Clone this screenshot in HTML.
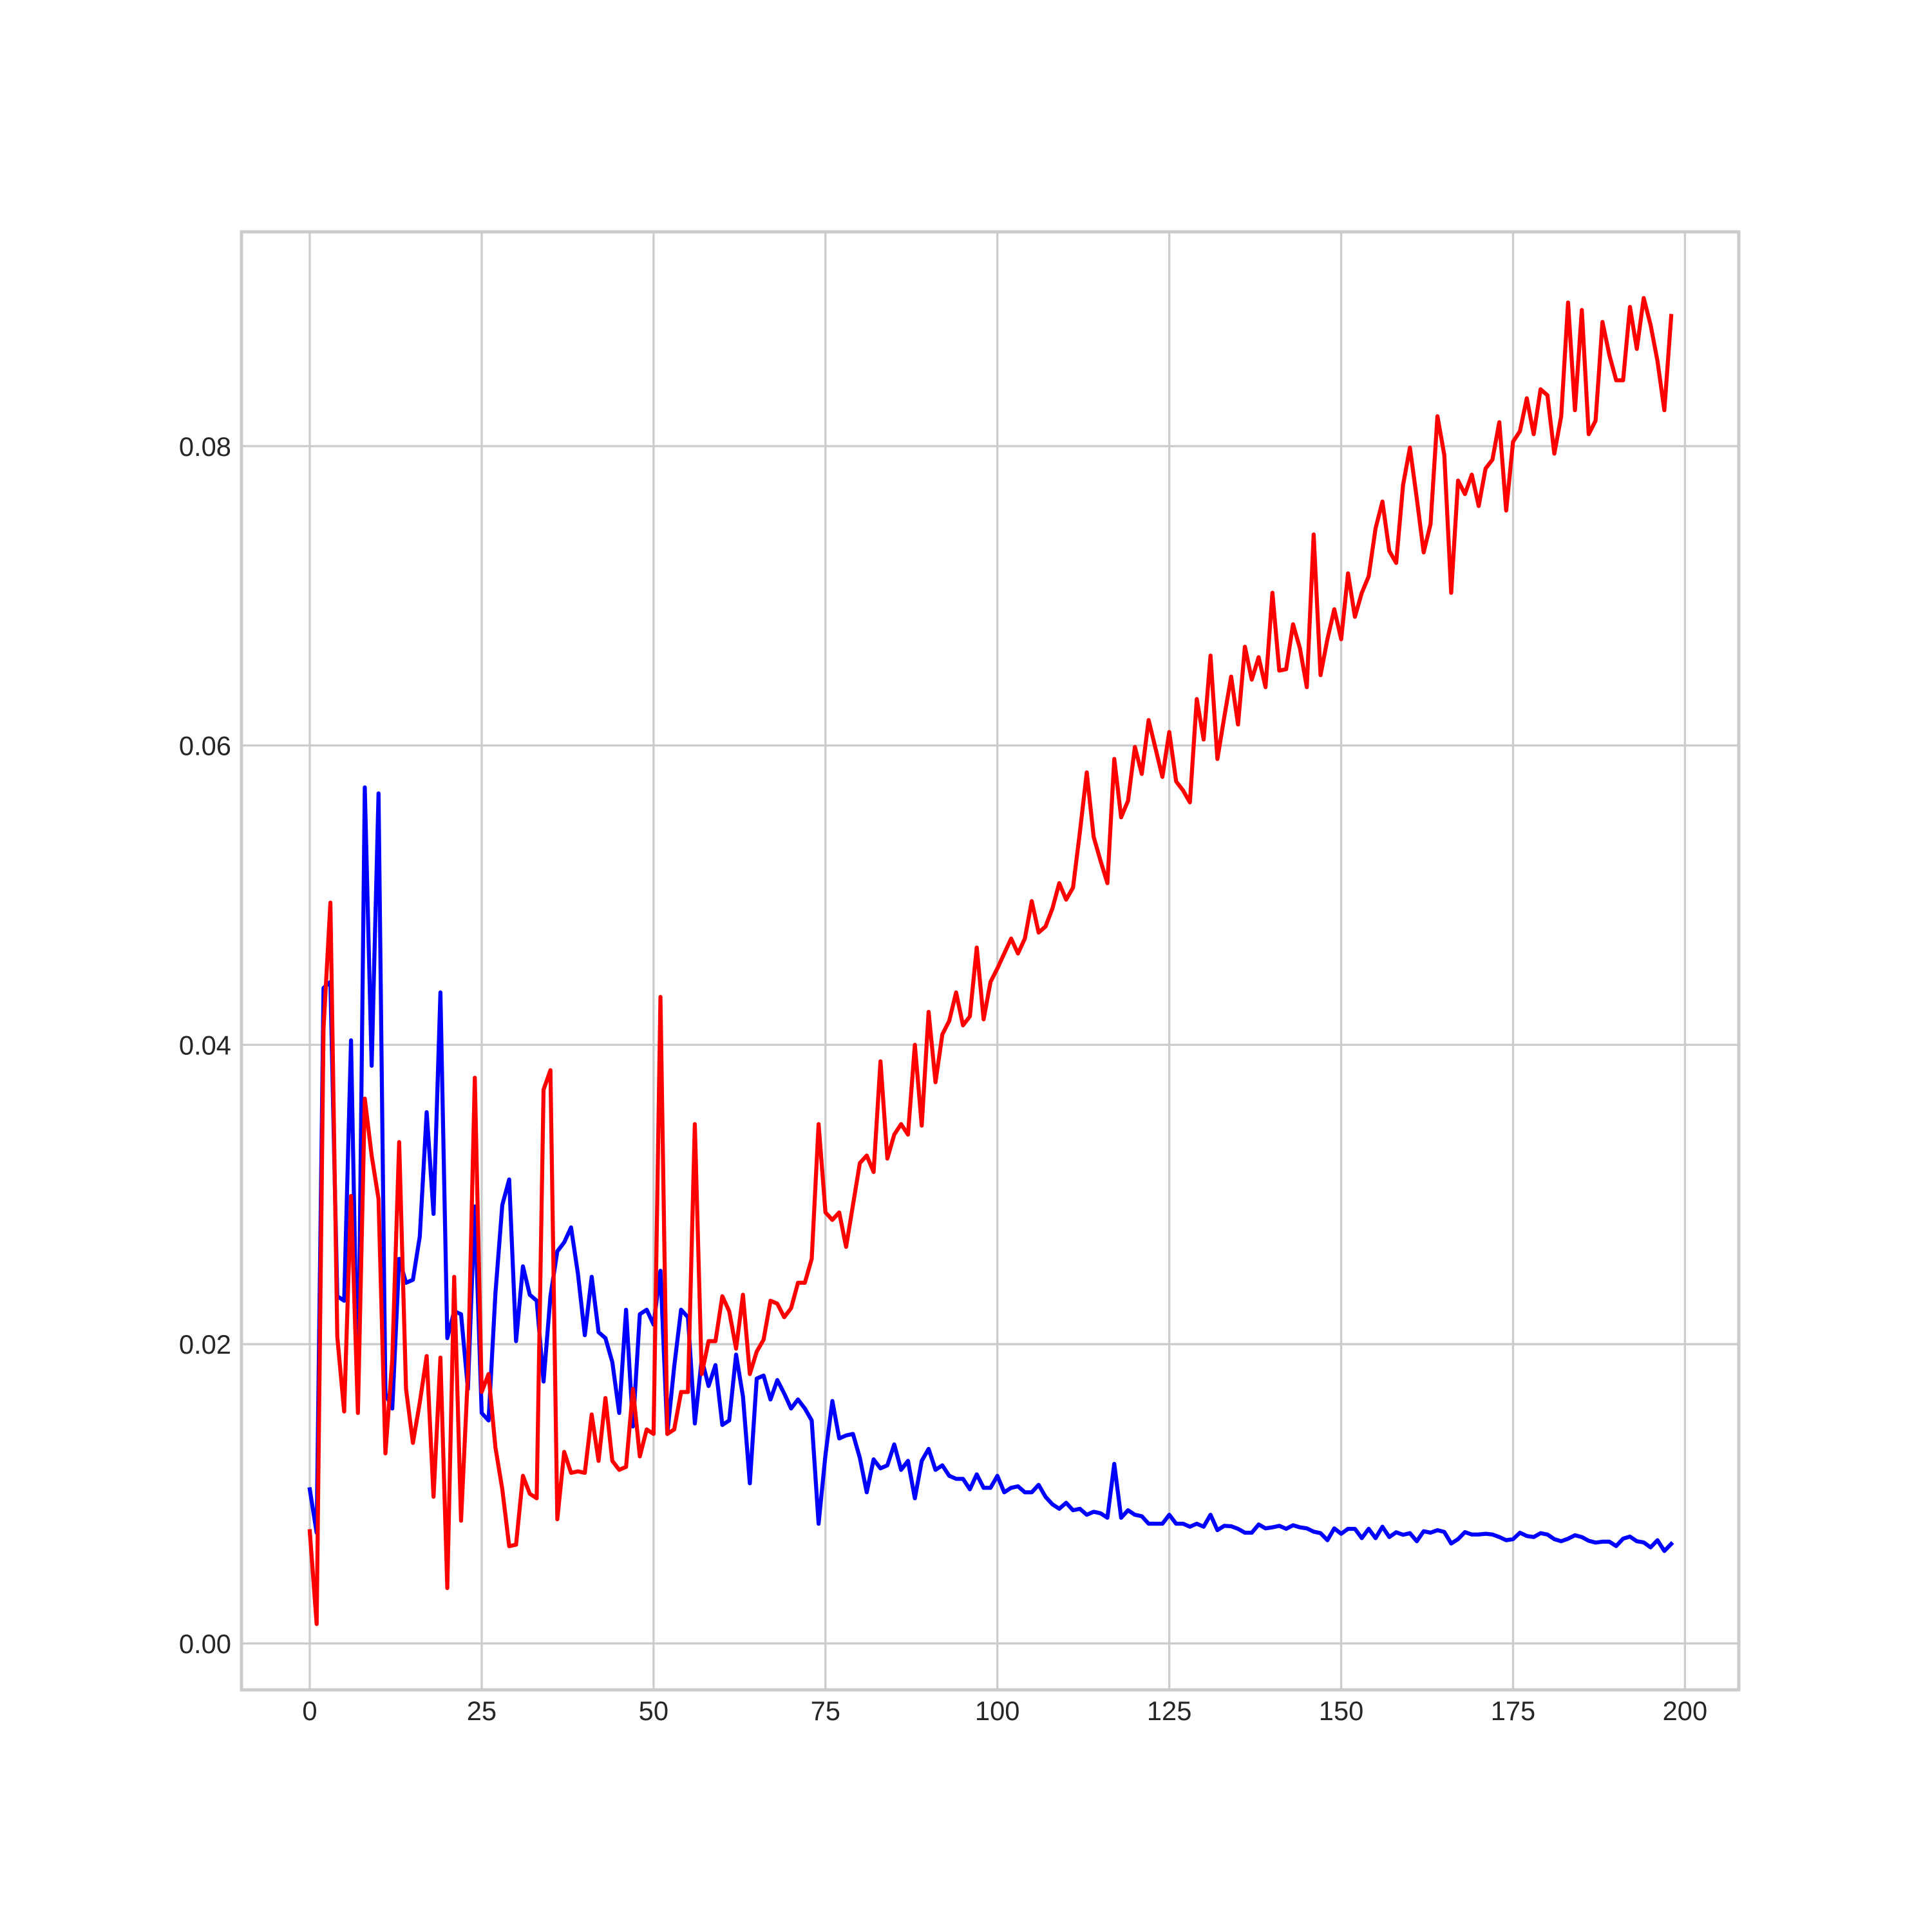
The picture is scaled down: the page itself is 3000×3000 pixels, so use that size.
<!DOCTYPE html>
<html>
<head>
<meta charset="utf-8">
<style>
  html,body{margin:0;padding:0;background:#fff;}
  svg{display:block;}
  text{font-family:"Liberation Sans","DejaVu Sans",sans-serif;fill:#262626;}
</style>
</head>
<body>
<svg id="chart" width="3000" height="3000" viewBox="0 0 3000 3000" xmlns="http://www.w3.org/2000/svg">
  <rect x="0" y="0" width="3000" height="3000" fill="#ffffff"/>
  <g id="grid"></g>
  <g id="series"></g>
  <rect x="375" y="360" width="2325" height="2264" fill="none" stroke="#cccccc" stroke-width="5"/>
  <g id="xticks"></g>
  <g id="yticks"></g>
</svg>
<script>
const xTickValues = [0, 25, 50, 75, 100, 125, 150, 175, 200];
const xTickLabels = ["0", "25", "50", "75", "100", "125", "150", "175", "200"];
const yTickValues = [0, 0.02, 0.04, 0.06, 0.08];
const yTickLabels = ["0.00", "0.02", "0.04", "0.06", "0.08"];

const blueSeries = [
0.0103,0.0074,0.0438,0.0442,0.0232,0.0229,0.0403,0.0156,0.0572,0.0386,
0.0568,0.0167,0.0157,0.0257,0.0241,0.0243,0.0272,0.0355,0.0287,0.0435,
0.0204,0.0222,0.0220,0.0170,0.0292,0.0154,0.0149,0.0234,0.0293,0.0310,
0.0202,0.0252,0.0233,0.0229,0.0175,0.0232,0.0262,0.0268,0.0278,0.0247,
0.0206,0.0245,0.0208,0.0204,0.0188,0.0154,0.0223,0.0145,0.0220,0.0223,
0.0213,0.0249,0.0140,0.0185,0.0223,0.0218,0.0147,0.0190,0.0172,0.0186,
0.0146,0.0149,0.0193,0.0165,0.0107,0.0177,0.0179,0.0163,0.0176,0.0167,
0.0157,0.0163,0.0157,0.0149,0.0080,0.0126,0.0162,0.0137,0.0139,0.0140,
0.0124,0.0101,0.0123,0.0117,0.0119,0.0133,0.0116,0.0122,0.0097,0.0122,
0.0130,0.0116,0.0119,0.0112,0.0110,0.0110,0.0103,0.0113,0.0104,0.0104,
0.0112,0.0101,0.0104,0.0105,0.0101,0.0101,0.0106,0.0098,0.0093,0.0090,
0.0094,0.0089,0.0090,0.0086,0.0088,0.0087,0.0084,0.0120,0.0084,0.0089,
0.0086,0.0085,0.0080,0.0080,0.0080,0.0086,0.0080,0.0080,0.0078,0.0080,
0.0078,0.0086,0.00757,0.00786,0.00783,0.00766,0.0074,0.0074,0.00795,0.00769,
0.00776,0.00786,0.00766,0.0079,0.00776,0.00769,0.00747,0.00737,0.0069,0.00769,
0.00733,0.00766,0.00766,0.00704,0.00766,0.00704,0.0078,0.00711,0.00743,0.00726,
0.00737,0.00683,0.0075,0.0074,0.00757,0.00745,0.00668,0.00697,0.00744,0.00728,
0.00728,0.00733,0.00728,0.00711,0.0069,0.00697,0.0074,0.00718,0.00711,0.00737,
0.00728,0.00697,0.00683,0.007,0.00723,0.00711,0.00686,0.00674,0.0068,0.0068,
0.00651,0.007,0.00714,0.00683,0.00675,0.00642,0.0069,0.00618,0.00665
];

const redSeries = [
0.0075,0.0013,0.0411,0.0495,0.0205,0.0155,0.0299,0.0154,0.0364,0.0326,
0.0297,0.0127,0.0190,0.0335,0.0170,0.0134,0.0161,0.0192,0.0098,0.0191,
0.0037,0.0245,0.0082,0.0180,0.0378,0.0168,0.0180,0.0131,0.0103,0.0065,
0.0066,0.0112,0.0100,0.0097,0.0370,0.0383,0.0083,0.0128,0.0114,0.0115,
0.0114,0.0153,0.0122,0.0164,0.0122,0.0116,0.0118,0.0170,0.0125,0.0143,
0.0140,0.0432,0.0140,0.0143,0.0168,0.0168,0.0347,0.0180,0.0202,0.0202,
0.0232,0.0222,0.0197,0.0233,0.0180,0.0195,0.0203,0.0229,0.0227,0.0218,
0.0224,0.0241,0.0241,0.0257,0.0347,0.0288,0.0283,0.0288,0.0265,0.0293,
0.0321,0.0326,0.0315,0.0389,0.0324,0.0340,0.0347,0.0340,0.0400,0.0346,
0.0422,0.0375,0.0407,0.0416,0.0435,0.0413,0.0419,0.0465,0.0417,0.0442,
0.0451,0.0461,0.0471,0.0461,0.0471,0.0496,0.0475,0.0479,0.0491,0.0508,
0.0497,0.0505,0.0542,0.0582,0.0539,0.0523,0.0508,0.0591,0.0552,0.0563,
0.0599,0.0581,0.0617,0.0598,0.0579,0.0609,0.0576,0.0570,0.0562,0.0631,
0.0604,0.0660,0.0591,0.0619,0.0646,0.0614,0.0666,0.0644,0.0659,0.0639,
0.0702,0.0650,0.0651,0.0681,0.0665,0.0639,0.0741,0.0647,0.0671,0.0691,
0.0671,0.0715,0.0686,0.0702,0.0713,0.0745,0.0763,0.0730,0.0722,0.0774,
0.0799,0.0765,0.0729,0.0748,0.0820,0.0794,0.0702,0.0777,0.0768,0.0781,
0.0760,0.0785,0.0791,0.0816,0.0757,0.0803,0.0810,0.0832,0.0808,0.0838,
0.0834,0.0795,0.0820,0.0896,0.0824,0.0891,0.0808,0.0817,0.0883,0.0861,
0.0844,0.0844,0.0893,0.0865,0.0899,0.0881,0.0857,0.0824,0.0887
];

const NS = "http://www.w3.org/2000/svg";
const AX = {left: 375, right: 2700, top: 360, bottom: 2624};
const X_MIN = -9.93, X_MAX = 207.83;
const Y_MIN = -0.00310, Y_MAX = 0.09432;
function xScale(v){ return AX.left + (v - X_MIN) / (X_MAX - X_MIN) * (AX.right - AX.left); }
function yScale(v){ return AX.bottom - (v - Y_MIN) / (Y_MAX - Y_MIN) * (AX.bottom - AX.top); }

const grid = document.getElementById('grid');
const xt = document.getElementById('xticks');
const yt = document.getElementById('yticks');
const seriesG = document.getElementById('series');

xTickValues.forEach(function(v, i){
  const x = xScale(v);
  const ln = document.createElementNS(NS, 'line');
  ln.setAttribute('x1', x); ln.setAttribute('x2', x);
  ln.setAttribute('y1', AX.top); ln.setAttribute('y2', AX.bottom);
  ln.setAttribute('stroke', '#cccccc'); ln.setAttribute('stroke-width', '3.3');
  
  
  grid.appendChild(ln);
  const t = document.createElementNS(NS, 'text');
  t.setAttribute('x', x); t.setAttribute('y', 2671);
  t.setAttribute('text-anchor', 'middle'); t.setAttribute('font-size', '41.7');
  t.textContent = xTickLabels[i];
  
  
  xt.appendChild(t);
});

yTickValues.forEach(function(v, i){
  const y = yScale(v);
  const ln = document.createElementNS(NS, 'line');
  ln.setAttribute('x1', AX.left); ln.setAttribute('x2', AX.right);
  ln.setAttribute('y1', y); ln.setAttribute('y2', y);
  ln.setAttribute('stroke', '#cccccc'); ln.setAttribute('stroke-width', '3.3');
  
  
  grid.appendChild(ln);
  const t = document.createElementNS(NS, 'text');
  t.setAttribute('x', 359); t.setAttribute('y', y + 15);
  t.setAttribute('text-anchor', 'end'); t.setAttribute('font-size', '41.7');
  t.textContent = yTickLabels[i];
  
  
  yt.appendChild(t);
});

function drawLine(values, color, name){
  const pts = values.map(function(v, i){ return xScale(i).toFixed(2) + ',' + yScale(v).toFixed(2); }).join(' ');
  const pl = document.createElementNS(NS, 'polyline');
  pl.setAttribute('points', pts);
  pl.setAttribute('fill', 'none');
  pl.setAttribute('stroke', color);
  pl.setAttribute('stroke-width', '6.25');
  pl.setAttribute('stroke-linejoin', 'round');
  pl.setAttribute('stroke-linecap', 'square');
  
  
  seriesG.appendChild(pl);
}
drawLine(blueSeries, '#0000ff', 'blue-series-line');
drawLine(redSeries, '#ff0000', 'red-series-line');
</script>
</body>
</html>
